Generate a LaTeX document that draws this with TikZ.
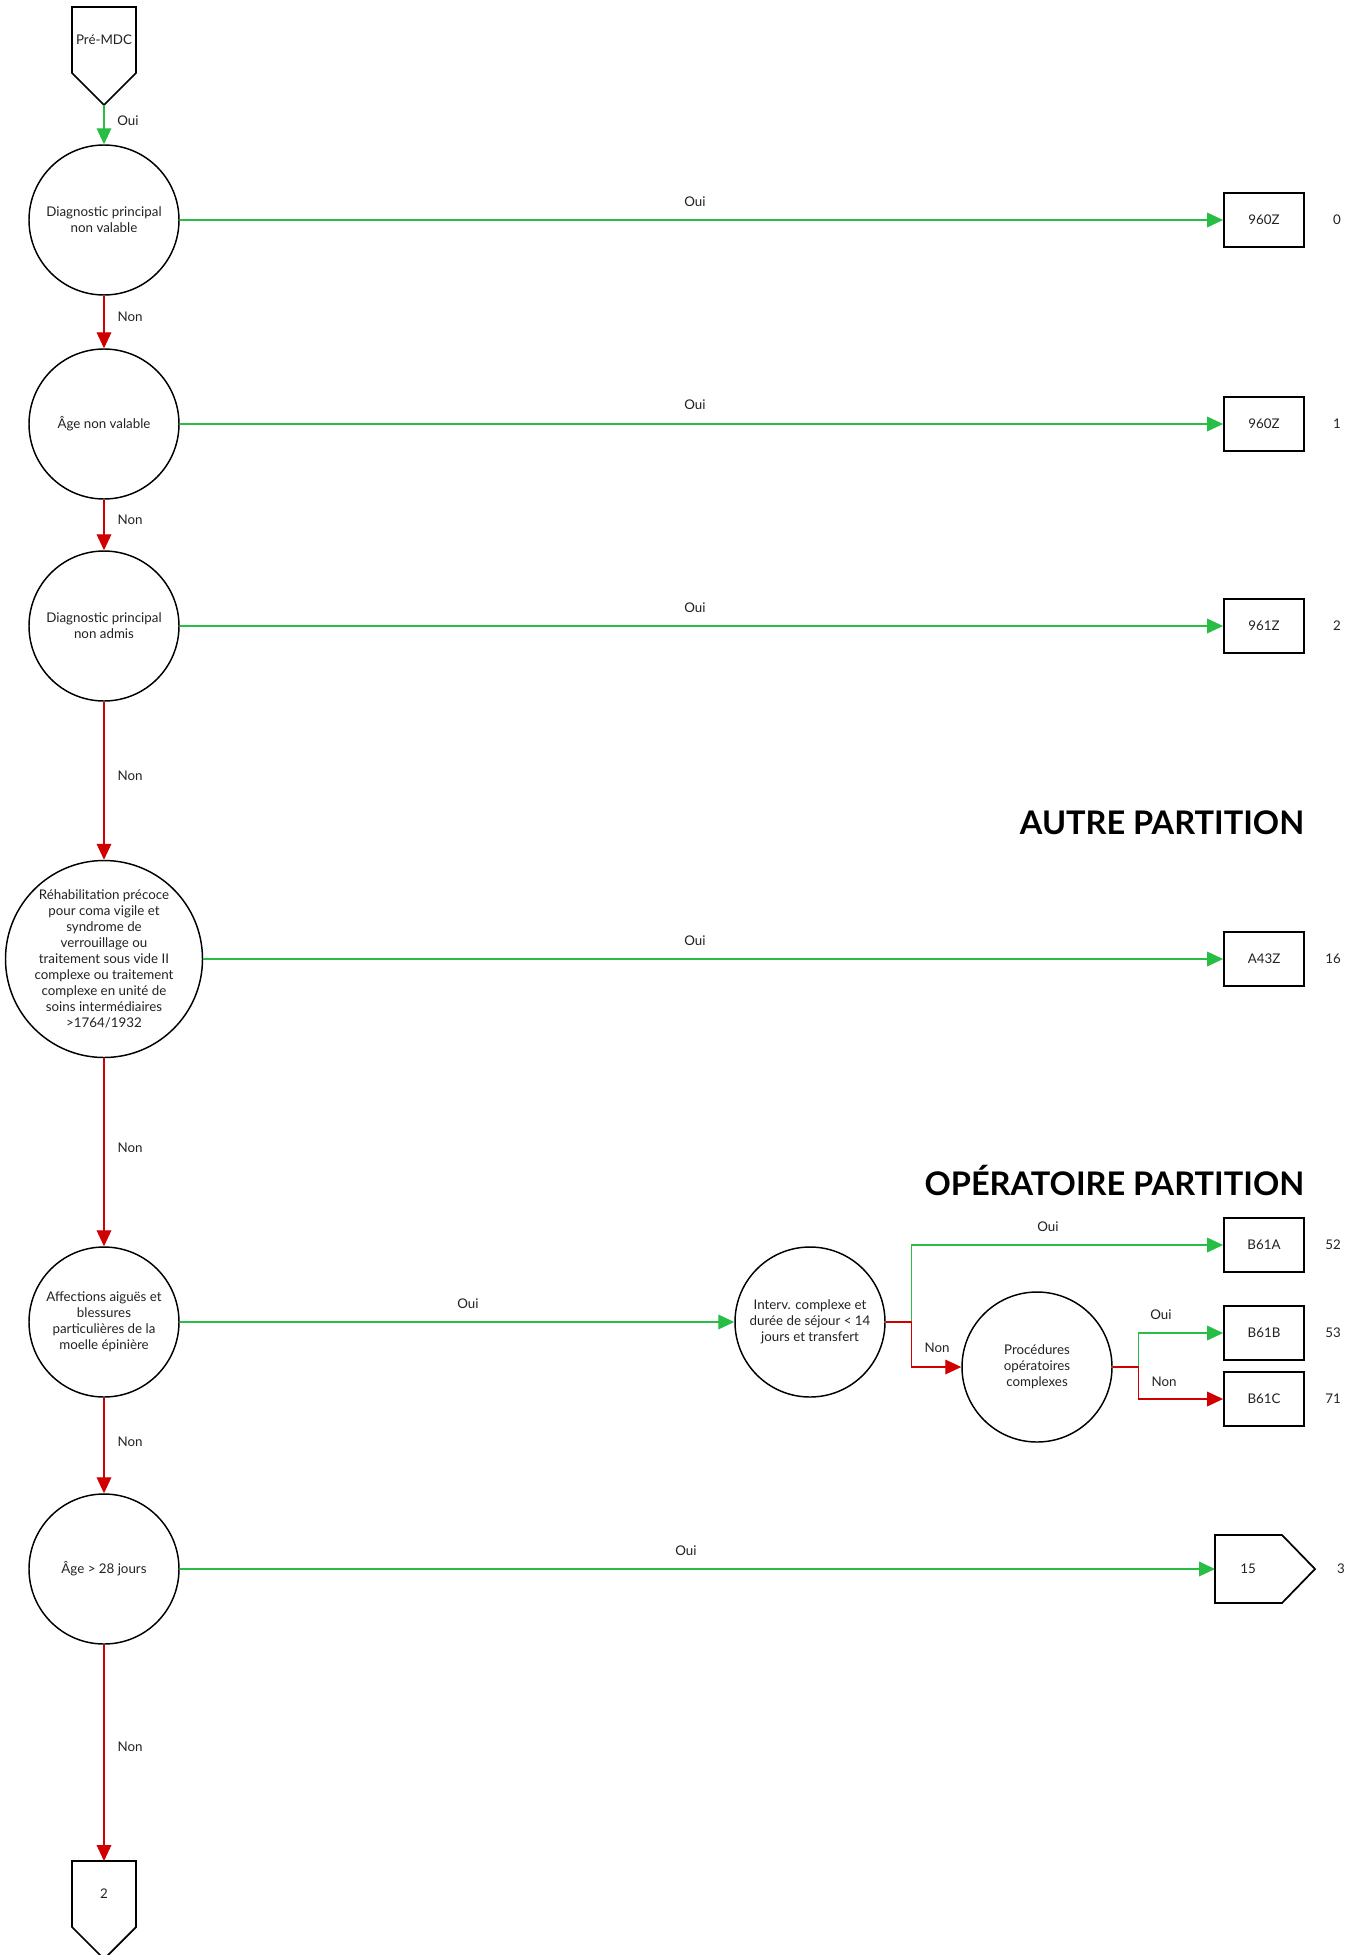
\documentclass[tikz,border=0pt]{standalone}
\usepackage{fontspec}
\setmainfont{Lato}
\usetikzlibrary{arrows.meta}
\definecolor{gr}{RGB}{40,190,70}
\definecolor{rd}{RGB}{208,0,0}
\definecolor{tx}{RGB}{34,34,34}
\begin{document}
\begin{tikzpicture}[x=0.75pt,y=-0.75pt,
  every node/.style={text=tx,font=\fontsize{10}{12}\selectfont},
  dec/.style={circle,draw=black,line width=1.1pt,minimum size=112.5pt,inner sep=0pt,align=center},
  bigdec/.style={dec,minimum size=147.75pt},
  leaf/.style={rectangle,draw=black,line width=1.4pt,minimum width=60pt,minimum height=40.5pt,inner sep=0pt},
  gline/.style={draw=gr,line width=1pt,-{Triangle[length=12pt,width=11pt]}},
  rline/.style={draw=rd,line width=1pt,-{Triangle[length=12pt,width=11pt]}},
  lbl/.style={inner sep=1pt},
  head/.style={font=\fontsize{24.4}{29}\selectfont\bfseries,text=black,anchor=east,inner sep=0pt},
  shp/.style={draw=black,line width=1.3pt}
]
\useasboundingbox (0,0) rectangle (1363,1955);
\fill[white] (0,0) rectangle (1363,1955);

% top pentagon
\draw[shp] (72,7) -- (136,7) -- (136,73) -- (104,105) -- (72,73) -- cycle;
\node (pre) at (104,40) {Pré-MDC};
\coordinate (pretip) at (104,105);

% decision circles
\node[dec] (c1) at (104,220) {Diagnostic principal\\non valable};
\node[dec] (c2) at (104,424) {Âge non valable};
\node[dec] (c3) at (104,626) {Diagnostic principal\\non admis};
\node[bigdec] (c4) at (104,959) {Réhabilitation précoce\\pour coma vigile et\\syndrome de\\verrouillage ou\\traitement sous vide II\\complexe ou traitement\\complexe en unité de\\soins intermédiaires\\>1764/1932};
\node[dec] (c5) at (104,1322) {Affections aiguës et\\blessures\\particulières de la\\moelle épinière};
\node[dec] (c6) at (104,1569) {Âge > 28 jours};
\node[dec] (interv) at (810,1322) {Interv. complexe et\\durée de séjour < 14\\jours et transfert};
\node[dec] (proc) at (1037,1367) {Procédures\\opératoires\\complexes};

% leaves
\node[leaf] (b0) at (1264,220) {960Z};
\node[leaf] (b1) at (1264,424) {960Z};
\node[leaf] (b2) at (1264,626) {961Z};
\node[leaf] (b16) at (1264,959) {A43Z};
\node[leaf] (b52) at (1264,1245) {B61A};
\node[leaf] (b53) at (1264,1333) {B61B};
\node[leaf] (b71) at (1264,1399) {B61C};

\node (n0) at (1337,220) {0};
\node (n1) at (1337,424) {1};
\node (n2) at (1337,626) {2};
\node (n16) at (1333,959) {16};
\node (n52) at (1333,1245) {52};
\node (n53) at (1333,1333) {53};
\node (n71) at (1333,1399) {71};

% right pentagon 15
\draw[shp] (1215,1535) -- (1282,1535) -- (1315,1569) -- (1282,1603) -- (1215,1603) -- cycle;
\node (p15) at (1248,1569) {15};
\coordinate (p15in) at (1215,1569);
\node (n3) at (1341,1569) {3};

% bottom pentagon 2
\draw[shp] (72,1861) -- (136,1861) -- (136,1927) -- (104,1959) -- (72,1927) -- cycle;
\node (p2) at (104,1894) {2};
\coordinate (p2in) at (104,1861);

% headings
\node[head] (h1) at (1304.5,823) {AUTRE PARTITION};
\node[head] (h2) at (1304.5,1180) {OPÉRATOIRE PARTITION};

% connectors
\draw[gline] (pretip) -- (c1);
\draw[rline] (c1) -- (c2);
\draw[rline] (c2) -- (c3);
\draw[rline] (c3) -- (c4);
\draw[rline] (c4) -- (c5);
\draw[rline] (c5) -- (c6);
\draw[rline] (c6) -- (p2in);

\draw[gline] (c1) -- (b0);
\draw[gline] (c2) -- (b1);
\draw[gline] (c3) -- (b2);
\draw[gline] (c4) -- (b16);
\draw[gline] (c5) -- (interv);
\draw[gline] (c6) -- (p15in);

\draw[gline] (interv.east) -- ++(26,0) |- (b52);
\draw[rline] (interv.east) -- ++(26,0) |- (proc);
\draw[gline] (proc.east) -- ++(26,0) |- (b53);
\draw[rline] (proc.east) -- ++(26,0) |- (b71);

% labels
\node[lbl] (l0) at (128,121) {Oui};
\node[lbl] (l1) at (130,317) {Non};
\node[lbl] (l2) at (130,520) {Non};
\node[lbl] (l3) at (130,776) {Non};
\node[lbl] (l4) at (130,1148) {Non};
\node[lbl] (l5) at (130,1442) {Non};
\node[lbl] (l6) at (130,1747) {Non};

\node[lbl] (o1) at (695,202) {Oui};
\node[lbl] (o2) at (695,405) {Oui};
\node[lbl] (o3) at (695,608) {Oui};
\node[lbl] (o4) at (695,941) {Oui};
\node[lbl] (o5) at (468,1304) {Oui};
\node[lbl] (o6) at (686,1551) {Oui};
\node[lbl] (o7) at (1048,1227) {Oui};
\node[lbl] (o8) at (937,1348) {Non};
\node[lbl] (o9) at (1161,1315) {Oui};
\node[lbl] (o10) at (1164,1382) {Non};
\end{tikzpicture}
\end{document}
